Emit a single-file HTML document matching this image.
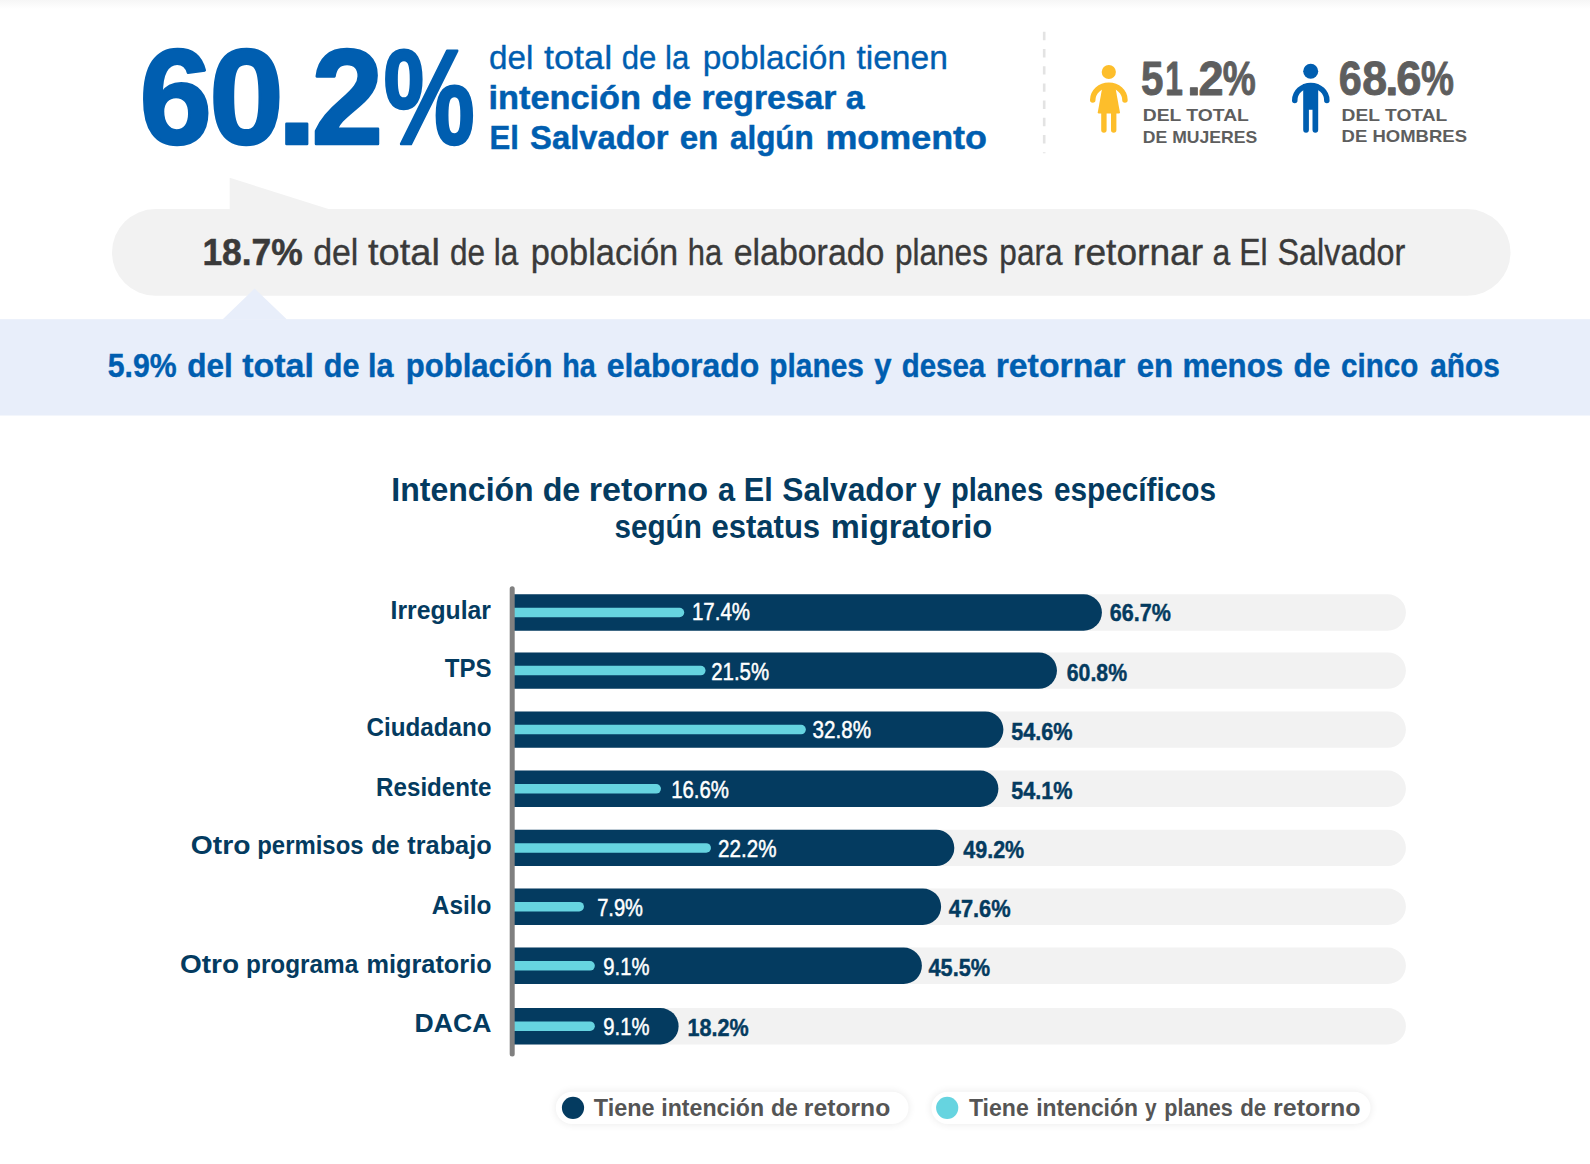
<!DOCTYPE html>
<html lang="es">
<head>
<meta charset="utf-8">
<title>Intención de retorno a El Salvador</title>
<style>
html,body{margin:0;padding:0;background:#fff;}
body{width:1590px;height:1164px;overflow:hidden;font-family:"Liberation Sans",sans-serif;}
svg{display:block;}
text{white-space:pre;}
</style>
</head>
<body>
<svg role="img" aria-label="Infografía: intención de retorno a El Salvador" width="1590" height="1164" viewBox="0 0 1590 1164" font-family="'Liberation Sans', sans-serif">
<defs><linearGradient id="tg" x1="0" y1="0" x2="0" y2="1"><stop offset="0" stop-color="#f6f6f6"/><stop offset="1" stop-color="#ffffff"/></linearGradient><filter id="sh" x="-10%" y="-80%" width="120%" height="260%"><feGaussianBlur stdDeviation="4"/></filter></defs>
<rect x="0" y="0" width="1590" height="9" fill="url(#tg)"/>
<line x1="1044.2" y1="31.8" x2="1044.2" y2="153.3" stroke="#e3e3e3" stroke-width="2.6" stroke-dasharray="8.4 8.8"/>
<g fill="#fdbe2b">
<circle cx="1108.8" cy="72.0" r="7.1"/>
<path d="M1092.75 100.1 A16.1 14.8 0 0 1 1124.95 100.1" fill="none" stroke="#fdbe2b" stroke-width="5.5" stroke-linecap="round"/>
<path d="M1102.9 84 H1114.8 L1119.9 112.2 Q1120.1 113.5 1118.8 113.5 H1098.9 Q1097.6 113.5 1097.8 112.2 Z"/>
<path d="M1101.2 111 H1106.6 V130 A2.7 2.7 0 0 1 1101.2 130 Z M1111 111 H1116.4 V130 A2.7 2.7 0 0 1 1111 130 Z"/>
</g>
<g fill="#005eb0">
<circle cx="1310.7" cy="71.2" r="7.5"/>
<path d="M1294.75 100.4 A16.05 14.95 0 0 1 1326.85 100.4" fill="none" stroke="#005eb0" stroke-width="5.5" stroke-linecap="round"/>
<path d="M1303.2 84 H1318.2 V129.8 A2.85 2.85 0 0 1 1312.5 129.8 V109.7 H1308.9 V129.8 A2.85 2.85 0 0 1 1303.2 129.8 Z"/>
</g>
<path d="M229.7 177.7 L330 209.6 H229.7 Z" fill="#f2f2f2"/>
<rect x="112" y="209.1" width="1398.5" height="86.7" rx="43.35" fill="#f2f2f2"/>
<rect x="0" y="319.2" width="1590" height="96.3" fill="#e8eefa"/>
<path d="M222.5 319.6 L254.6 288.6 L287 319.6 Z" fill="#e8eefa"/>
<rect x="492.0" y="594.3" width="913.9" height="36.4" rx="18.20" fill="#f2f2f2"/>
<path d="M512.0 594.3 H1083.7 A18.20 18.20 0 0 1 1083.7 630.7 H512.0 Z" fill="#043b60"/>
<path d="M512.0 607.75 H679.5 A4.75 4.75 0 0 1 679.5 617.25 H512.0 Z" fill="#66d4e0"/>
<rect x="492.0" y="652.4" width="913.9" height="36.4" rx="18.20" fill="#f2f2f2"/>
<path d="M512.0 652.4 H1038.8 A18.20 18.20 0 0 1 1038.8 688.8 H512.0 Z" fill="#043b60"/>
<path d="M512.0 665.85 H700.8 A4.75 4.75 0 0 1 700.8 675.35 H512.0 Z" fill="#66d4e0"/>
<rect x="492.0" y="711.4" width="913.9" height="36.4" rx="18.20" fill="#f2f2f2"/>
<path d="M512.0 711.4 H985.2 A18.20 18.20 0 0 1 985.2 747.8 H512.0 Z" fill="#043b60"/>
<path d="M512.0 724.85 H801.1 A4.75 4.75 0 0 1 801.1 734.35 H512.0 Z" fill="#66d4e0"/>
<rect x="492.0" y="770.6" width="913.9" height="36.4" rx="18.20" fill="#f2f2f2"/>
<path d="M512.0 770.6 H980.2 A18.20 18.20 0 0 1 980.2 807.0 H512.0 Z" fill="#043b60"/>
<path d="M512.0 784.05 H656.2 A4.75 4.75 0 0 1 656.2 793.55 H512.0 Z" fill="#66d4e0"/>
<rect x="492.0" y="829.7" width="913.9" height="36.4" rx="18.20" fill="#f2f2f2"/>
<path d="M512.0 829.7 H936.1 A18.20 18.20 0 0 1 936.1 866.1 H512.0 Z" fill="#043b60"/>
<path d="M512.0 843.15 H706.2 A4.75 4.75 0 0 1 706.2 852.65 H512.0 Z" fill="#66d4e0"/>
<rect x="492.0" y="888.5" width="913.9" height="36.4" rx="18.20" fill="#f2f2f2"/>
<path d="M512.0 888.5 H922.9 A18.20 18.20 0 0 1 922.9 924.9 H512.0 Z" fill="#043b60"/>
<path d="M512.0 901.95 H579.2 A4.75 4.75 0 0 1 579.2 911.45 H512.0 Z" fill="#66d4e0"/>
<rect x="492.0" y="947.6" width="913.9" height="36.4" rx="18.20" fill="#f2f2f2"/>
<path d="M512.0 947.6 H903.7 A18.20 18.20 0 0 1 903.7 984.0 H512.0 Z" fill="#043b60"/>
<path d="M512.0 961.05 H590.1 A4.75 4.75 0 0 1 590.1 970.55 H512.0 Z" fill="#66d4e0"/>
<rect x="492.0" y="1008.0" width="913.9" height="36.4" rx="18.20" fill="#f2f2f2"/>
<path d="M512.0 1008.0 H660.4 A18.20 18.20 0 0 1 660.4 1044.4 H512.0 Z" fill="#043b60"/>
<path d="M512.0 1021.45 H590.1 A4.75 4.75 0 0 1 590.1 1030.95 H512.0 Z" fill="#66d4e0"/>
<rect x="480" y="590" width="30" height="460" fill="#fff"/>
<rect x="509.7" y="586.3" width="5" height="470.2" rx="2.5" fill="#808080"/>
<rect x="555.8" y="1091.8" width="352.7" height="32.3" rx="16.15" fill="#000" opacity="0.085" filter="url(#sh)"/>
<rect x="555.8" y="1091.8" width="352.7" height="32.3" rx="16.15" fill="#fff"/>
<circle cx="573.0" cy="1107.8" r="11.1" fill="#043b60"/>
<rect x="931.4" y="1091.8" width="439.1" height="32.3" rx="16.15" fill="#000" opacity="0.085" filter="url(#sh)"/>
<rect x="931.4" y="1091.8" width="439.1" height="32.3" rx="16.15" fill="#fff"/>
<circle cx="947.2" cy="1107.8" r="11.1" fill="#66d4e0"/>
<text id="big" y="143.60" font-size="136.05" font-weight="bold" fill="#005eb0" stroke="#005eb0" stroke-width="2.6" stroke-linejoin="round"><tspan x="139.57" textLength="72.42" lengthAdjust="spacingAndGlyphs">6</tspan><tspan x="209.36" textLength="74.48" lengthAdjust="spacingAndGlyphs">0</tspan><tspan x="276.67" textLength="40.21" lengthAdjust="spacingAndGlyphs">.</tspan><tspan x="311.43" textLength="71.69" lengthAdjust="spacingAndGlyphs">2</tspan><tspan x="383.56" textLength="91.27" lengthAdjust="spacingAndGlyphs">%</tspan></text>
<text id="h1" y="69.20" font-size="34.12" font-weight="normal" fill="#005eb0" stroke="#005eb0" stroke-width="0.35"><tspan x="489.03" textLength="44.35" lengthAdjust="spacingAndGlyphs">del</tspan> <tspan x="543.91" textLength="68.28" lengthAdjust="spacingAndGlyphs">total</tspan> <tspan x="621.76" textLength="67.55" lengthAdjust="spacingAndGlyphs">de la</tspan> <tspan x="702.69" textLength="143.35" lengthAdjust="spacingAndGlyphs">población</tspan> <tspan x="856.42" textLength="91.50" lengthAdjust="spacingAndGlyphs">tienen</tspan></text>
<text id="h2" y="109.20" font-size="34.12" font-weight="bold" fill="#005eb0" stroke="#005eb0" stroke-width="0.5"><tspan x="488.57" textLength="152.45" lengthAdjust="spacingAndGlyphs">intención</tspan> <tspan x="651.62" textLength="39.79" lengthAdjust="spacingAndGlyphs">de</tspan> <tspan x="701.44" textLength="163.19" lengthAdjust="spacingAndGlyphs">regresar a</tspan></text>
<text id="h3" y="149.20" font-size="34.12" font-weight="bold" fill="#005eb0" stroke="#005eb0" stroke-width="0.5"><tspan x="489.58" textLength="29.37" lengthAdjust="spacingAndGlyphs">El</tspan> <tspan x="530.05" textLength="138.44" lengthAdjust="spacingAndGlyphs">Salvador</tspan> <tspan x="679.65" textLength="38.60" lengthAdjust="spacingAndGlyphs">en</tspan> <tspan x="729.94" textLength="83.83" lengthAdjust="spacingAndGlyphs">algún</tspan> <tspan x="825.44" textLength="161.54" lengthAdjust="spacingAndGlyphs">momento</tspan></text>
<text id="w1" y="94.80" font-size="47.97" font-weight="bold" fill="#5e5e5e" stroke="#5e5e5e" stroke-width="0.9" stroke-linejoin="round"><tspan x="1141.12" textLength="22.43" lengthAdjust="spacingAndGlyphs">5</tspan><tspan x="1165.19" textLength="17.63" lengthAdjust="spacingAndGlyphs">1</tspan><tspan x="1187.12" textLength="13.75" lengthAdjust="spacingAndGlyphs">.</tspan><tspan x="1198.47" textLength="25.06" lengthAdjust="spacingAndGlyphs">2</tspan><tspan x="1222.77" textLength="33.03" lengthAdjust="spacingAndGlyphs">%</tspan></text>
<text id="w2" y="121.40" font-size="17.15" font-weight="bold" fill="#5e5e5e"><tspan x="1142.72" textLength="106.15" lengthAdjust="spacingAndGlyphs">DEL TOTAL</tspan></text>
<text id="w3" y="142.60" font-size="17.15" font-weight="bold" fill="#5e5e5e"><tspan x="1142.83" textLength="114.36" lengthAdjust="spacingAndGlyphs">DE MUJERES</tspan></text>
<text id="m1" y="94.80" font-size="47.97" font-weight="bold" fill="#5e5e5e" stroke="#5e5e5e" stroke-width="0.9" stroke-linejoin="round"><tspan x="1338.81" textLength="23.01" lengthAdjust="spacingAndGlyphs">6</tspan><tspan x="1362.26" textLength="24.87" lengthAdjust="spacingAndGlyphs">8</tspan><tspan x="1385.33" textLength="13.21" lengthAdjust="spacingAndGlyphs">.</tspan><tspan x="1396.16" textLength="25.20" lengthAdjust="spacingAndGlyphs">6</tspan><tspan x="1421.10" textLength="32.97" lengthAdjust="spacingAndGlyphs">%</tspan></text>
<text id="m2" y="121.40" font-size="17.15" font-weight="bold" fill="#5e5e5e"><tspan x="1341.60" textLength="105.68" lengthAdjust="spacingAndGlyphs">DEL TOTAL</tspan></text>
<text id="m3" y="142.00" font-size="17.15" font-weight="bold" fill="#5e5e5e"><tspan x="1341.60" textLength="125.41" lengthAdjust="spacingAndGlyphs">DE HOMBRES</tspan></text>
<text id="p1" y="264.80" font-size="37.50" font-weight="bold" fill="#3a3a3a" stroke="#3a3a3a" stroke-width="0.5"><tspan x="202.40" textLength="100.43" lengthAdjust="spacingAndGlyphs">18.7%</tspan></text>
<text id="p2" y="264.80" font-size="36.38" font-weight="normal" fill="#3a3a3a" stroke="#3a3a3a" stroke-width="0.35"><tspan x="313.13" textLength="45.27" lengthAdjust="spacingAndGlyphs">del</tspan> <tspan x="367.91" textLength="72.00" lengthAdjust="spacingAndGlyphs">total</tspan> <tspan x="449.99" textLength="68.36" lengthAdjust="spacingAndGlyphs">de la</tspan> <tspan x="530.67" textLength="147.59" lengthAdjust="spacingAndGlyphs">población</tspan> <tspan x="687.78" textLength="34.38" lengthAdjust="spacingAndGlyphs">ha</tspan> <tspan x="733.66" textLength="150.78" lengthAdjust="spacingAndGlyphs">elaborado</tspan> <tspan x="895.06" textLength="92.84" lengthAdjust="spacingAndGlyphs">planes</tspan> <tspan x="999.35" textLength="63.16" lengthAdjust="spacingAndGlyphs">para</tspan> <tspan x="1073.01" textLength="130.18" lengthAdjust="spacingAndGlyphs">retornar</tspan> <tspan x="1212.61" textLength="54.96" lengthAdjust="spacingAndGlyphs">a El</tspan> <tspan x="1277.47" textLength="127.82" lengthAdjust="spacingAndGlyphs">Salvador</tspan></text>
<text id="b1" y="377.40" font-size="33.13" font-weight="bold" fill="#005eb0" stroke="#005eb0" stroke-width="0.4"><tspan x="107.67" textLength="68.97" lengthAdjust="spacingAndGlyphs">5.9%</tspan> <tspan x="187.27" textLength="45.56" lengthAdjust="spacingAndGlyphs">del</tspan> <tspan x="242.16" textLength="71.65" lengthAdjust="spacingAndGlyphs">total</tspan> <tspan x="323.81" textLength="69.63" lengthAdjust="spacingAndGlyphs">de la</tspan> <tspan x="405.69" textLength="146.82" lengthAdjust="spacingAndGlyphs">población</tspan> <tspan x="562.31" textLength="33.56" lengthAdjust="spacingAndGlyphs">ha</tspan> <tspan x="606.71" textLength="152.52" lengthAdjust="spacingAndGlyphs">elaborado</tspan> <tspan x="769.30" textLength="94.54" lengthAdjust="spacingAndGlyphs">planes</tspan> <tspan x="874.33" textLength="17.25" lengthAdjust="spacingAndGlyphs">y</tspan> <tspan x="901.79" textLength="83.40" lengthAdjust="spacingAndGlyphs">desea</tspan> <tspan x="995.66" textLength="129.67" lengthAdjust="spacingAndGlyphs">retornar</tspan> <tspan x="1136.73" textLength="36.39" lengthAdjust="spacingAndGlyphs">en</tspan> <tspan x="1182.45" textLength="100.68" lengthAdjust="spacingAndGlyphs">menos</tspan> <tspan x="1293.50" textLength="36.74" lengthAdjust="spacingAndGlyphs">de</tspan> <tspan x="1341.03" textLength="77.20" lengthAdjust="spacingAndGlyphs">cinco</tspan> <tspan x="1430.29" textLength="69.57" lengthAdjust="spacingAndGlyphs">años</tspan></text>
<text id="t1" y="500.90" font-size="32.43" font-weight="bold" fill="#043b60"><tspan x="391.26" textLength="142.45" lengthAdjust="spacingAndGlyphs">Intención</tspan> <tspan x="542.64" textLength="37.61" lengthAdjust="spacingAndGlyphs">de</tspan> <tspan x="588.78" textLength="119.43" lengthAdjust="spacingAndGlyphs">retorno</tspan> <tspan x="718.11" textLength="54.58" lengthAdjust="spacingAndGlyphs">a El</tspan> <tspan x="782.29" textLength="134.25" lengthAdjust="spacingAndGlyphs">Salvador</tspan> <tspan x="923.29" textLength="17.77" lengthAdjust="spacingAndGlyphs">y</tspan> <tspan x="950.96" textLength="92.16" lengthAdjust="spacingAndGlyphs">planes</tspan> <tspan x="1053.94" textLength="162.13" lengthAdjust="spacingAndGlyphs">específicos</tspan></text>
<text id="t2" y="537.50" font-size="32.43" font-weight="bold" fill="#043b60"><tspan x="614.47" textLength="87.31" lengthAdjust="spacingAndGlyphs">según</tspan> <tspan x="711.41" textLength="108.71" lengthAdjust="spacingAndGlyphs">estatus</tspan> <tspan x="830.84" textLength="161.35" lengthAdjust="spacingAndGlyphs">migratorio</tspan></text>
<text id="c0" y="618.90" font-size="25.10" font-weight="bold" fill="#043b60"><tspan x="390.53" textLength="100.40" lengthAdjust="spacingAndGlyphs">Irregular</tspan></text>
<text id="c1" y="677.40" font-size="25.87" font-weight="bold" fill="#043b60"><tspan x="444.73" textLength="46.73" lengthAdjust="spacingAndGlyphs">TPS</tspan></text>
<text id="c2" y="736.20" font-size="25.10" font-weight="bold" fill="#043b60"><tspan x="366.61" textLength="124.88" lengthAdjust="spacingAndGlyphs">Ciudadano</tspan></text>
<text id="c3" y="795.80" font-size="25.10" font-weight="bold" fill="#043b60"><tspan x="376.11" textLength="115.41" lengthAdjust="spacingAndGlyphs">Residente</tspan></text>
<text id="c4" y="854.00" font-size="25.10" font-weight="bold" fill="#043b60"><tspan x="190.78" textLength="59.68" lengthAdjust="spacingAndGlyphs">Otro</tspan> <tspan x="257.27" textLength="106.27" lengthAdjust="spacingAndGlyphs">permisos</tspan> <tspan x="371.15" textLength="28.52" lengthAdjust="spacingAndGlyphs">de</tspan> <tspan x="407.33" textLength="84.31" lengthAdjust="spacingAndGlyphs">trabajo</tspan></text>
<text id="c5" y="913.50" font-size="25.10" font-weight="bold" fill="#043b60"><tspan x="431.77" textLength="59.68" lengthAdjust="spacingAndGlyphs">Asilo</tspan></text>
<text id="c6" y="972.60" font-size="25.10" font-weight="bold" fill="#043b60"><tspan x="179.98" textLength="59.14" lengthAdjust="spacingAndGlyphs">Otro</tspan> <tspan x="246.03" textLength="112.29" lengthAdjust="spacingAndGlyphs">programa</tspan> <tspan x="366.54" textLength="125.14" lengthAdjust="spacingAndGlyphs">migratorio</tspan></text>
<text id="c7" y="1031.90" font-size="25.87" font-weight="bold" fill="#043b60"><tspan x="414.60" textLength="76.73" lengthAdjust="spacingAndGlyphs">DACA</tspan></text>
<text id="i0" y="619.90" font-size="24.42" font-weight="normal" fill="#ffffff" stroke="#fff" stroke-width="0.5"><tspan x="691.95" textLength="58.07" lengthAdjust="spacingAndGlyphs">17.4%</tspan></text>
<text id="i1" y="679.90" font-size="24.42" font-weight="normal" fill="#ffffff" stroke="#fff" stroke-width="0.5"><tspan x="711.19" textLength="57.94" lengthAdjust="spacingAndGlyphs">21.5%</tspan></text>
<text id="i2" y="738.20" font-size="24.42" font-weight="normal" fill="#ffffff" stroke="#fff" stroke-width="0.5"><tspan x="812.55" textLength="58.51" lengthAdjust="spacingAndGlyphs">32.8%</tspan></text>
<text id="i3" y="797.60" font-size="24.42" font-weight="normal" fill="#ffffff" stroke="#fff" stroke-width="0.5"><tspan x="671.16" textLength="57.86" lengthAdjust="spacingAndGlyphs">16.6%</tspan></text>
<text id="i4" y="857.10" font-size="24.42" font-weight="normal" fill="#ffffff" stroke="#fff" stroke-width="0.5"><tspan x="718.11" textLength="58.36" lengthAdjust="spacingAndGlyphs">22.2%</tspan></text>
<text id="i5" y="915.70" font-size="24.42" font-weight="normal" fill="#ffffff" stroke="#fff" stroke-width="0.5"><tspan x="597.15" textLength="45.83" lengthAdjust="spacingAndGlyphs">7.9%</tspan></text>
<text id="i6" y="974.80" font-size="24.42" font-weight="normal" fill="#ffffff" stroke="#fff" stroke-width="0.5"><tspan x="603.30" textLength="46.12" lengthAdjust="spacingAndGlyphs">9.1%</tspan></text>
<text id="i7" y="1034.60" font-size="24.42" font-weight="normal" fill="#ffffff" stroke="#fff" stroke-width="0.5"><tspan x="603.30" textLength="46.12" lengthAdjust="spacingAndGlyphs">9.1%</tspan></text>
<text id="o0" y="621.00" font-size="24.27" font-weight="bold" fill="#043b60" stroke="#043b60" stroke-width="0.45"><tspan x="1109.80" textLength="61.03" lengthAdjust="spacingAndGlyphs">66.7%</tspan></text>
<text id="o1" y="680.60" font-size="24.27" font-weight="bold" fill="#043b60" stroke="#043b60" stroke-width="0.45"><tspan x="1066.81" textLength="60.25" lengthAdjust="spacingAndGlyphs">60.8%</tspan></text>
<text id="o2" y="739.50" font-size="24.27" font-weight="bold" fill="#043b60" stroke="#043b60" stroke-width="0.45"><tspan x="1011.13" textLength="61.35" lengthAdjust="spacingAndGlyphs">54.6%</tspan></text>
<text id="o3" y="798.80" font-size="24.27" font-weight="bold" fill="#043b60" stroke="#043b60" stroke-width="0.45"><tspan x="1011.13" textLength="61.35" lengthAdjust="spacingAndGlyphs">54.1%</tspan></text>
<text id="o4" y="858.30" font-size="24.27" font-weight="bold" fill="#043b60" stroke="#043b60" stroke-width="0.45"><tspan x="963.25" textLength="60.96" lengthAdjust="spacingAndGlyphs">49.2%</tspan></text>
<text id="o5" y="917.20" font-size="24.27" font-weight="bold" fill="#043b60" stroke="#043b60" stroke-width="0.45"><tspan x="948.79" textLength="61.87" lengthAdjust="spacingAndGlyphs">47.6%</tspan></text>
<text id="o6" y="976.30" font-size="24.27" font-weight="bold" fill="#043b60" stroke="#043b60" stroke-width="0.45"><tspan x="928.49" textLength="61.71" lengthAdjust="spacingAndGlyphs">45.5%</tspan></text>
<text id="o7" y="1035.60" font-size="24.27" font-weight="bold" fill="#043b60" stroke="#043b60" stroke-width="0.45"><tspan x="687.52" textLength="61.15" lengthAdjust="spacingAndGlyphs">18.2%</tspan></text>
<text id="l1" y="1115.90" font-size="23.97" font-weight="bold" fill="#555555"><tspan x="593.75" textLength="60.78" lengthAdjust="spacingAndGlyphs">Tiene</tspan> <tspan x="661.27" textLength="102.80" lengthAdjust="spacingAndGlyphs">intención</tspan> <tspan x="770.90" textLength="26.95" lengthAdjust="spacingAndGlyphs">de</tspan> <tspan x="803.87" textLength="86.40" lengthAdjust="spacingAndGlyphs">retorno</tspan></text>
<text id="l2" y="1115.90" font-size="23.97" font-weight="bold" fill="#555555"><tspan x="968.89" textLength="59.85" lengthAdjust="spacingAndGlyphs">Tiene</tspan> <tspan x="1036.18" textLength="101.80" lengthAdjust="spacingAndGlyphs">intención</tspan> <tspan x="1145.03" textLength="11.63" lengthAdjust="spacingAndGlyphs">y</tspan> <tspan x="1164.23" textLength="68.47" lengthAdjust="spacingAndGlyphs">planes</tspan> <tspan x="1240.26" textLength="26.03" lengthAdjust="spacingAndGlyphs">de</tspan> <tspan x="1273.05" textLength="87.45" lengthAdjust="spacingAndGlyphs">retorno</tspan></text>
</svg>
</body>
</html>
